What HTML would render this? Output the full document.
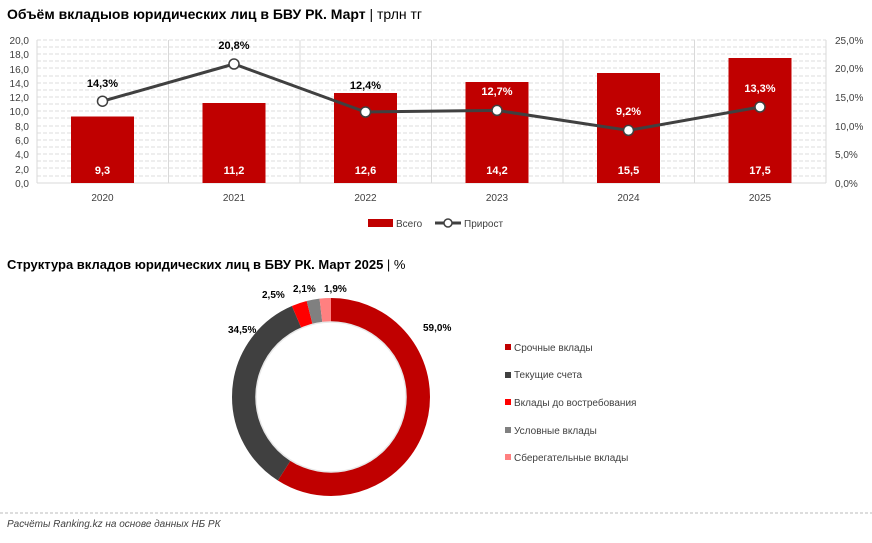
<!DOCTYPE html><html><head><meta charset="utf-8"><style>
body{margin:0;background:#fff;width:872px;height:538px;overflow:hidden;font-family:"Liberation Sans",sans-serif}
</style></head><body>
<svg width="872" height="538" xmlns="http://www.w3.org/2000/svg" font-family="Liberation Sans, sans-serif">
<text x="7" y="19" font-size="14" font-weight="bold" fill="#000">Объём вкладыов юридических лиц в БВУ РК. Март <tspan font-weight="normal">| трлн тг</tspan></text>
<g stroke="#ddd" stroke-dasharray="4,2" stroke-width="1">
<line x1="37" x2="826" y1="40" y2="40"/><line x1="37" x2="826" y1="47" y2="47"/><line x1="37" x2="826" y1="54" y2="54"/><line x1="37" x2="826" y1="61" y2="61"/><line x1="37" x2="826" y1="68" y2="68"/><line x1="37" x2="826" y1="76" y2="76"/><line x1="37" x2="826" y1="83" y2="83"/><line x1="37" x2="826" y1="90" y2="90"/><line x1="37" x2="826" y1="97" y2="97"/><line x1="37" x2="826" y1="104" y2="104"/><line x1="37" x2="826" y1="111" y2="111"/><line x1="37" x2="826" y1="118" y2="118"/><line x1="37" x2="826" y1="126" y2="126"/><line x1="37" x2="826" y1="133" y2="133"/><line x1="37" x2="826" y1="140" y2="140"/><line x1="37" x2="826" y1="147" y2="147"/><line x1="37" x2="826" y1="154" y2="154"/><line x1="37" x2="826" y1="161" y2="161"/><line x1="37" x2="826" y1="168" y2="168"/><line x1="37" x2="826" y1="176" y2="176"/>
</g>
<g stroke="#d9d9d9"><line x1="37" x2="37" y1="40" y2="183"/><line x1="168.5" x2="168.5" y1="40" y2="183"/><line x1="300" x2="300" y1="40" y2="183"/><line x1="431.5" x2="431.5" y1="40" y2="183"/><line x1="563" x2="563" y1="40" y2="183"/><line x1="694.5" x2="694.5" y1="40" y2="183"/><line x1="826" x2="826" y1="40" y2="183"/><line x1="37" x2="826" y1="183" y2="183"/></g>
<g font-size="10" fill="#404040" text-anchor="end">
<text x="29" y="44">20,0</text><text x="29" y="58">18,0</text><text x="29" y="73">16,0</text><text x="29" y="87">14,0</text><text x="29" y="101">12,0</text><text x="29" y="115">10,0</text><text x="29" y="130">8,0</text><text x="29" y="144">6,0</text><text x="29" y="158">4,0</text><text x="29" y="173">2,0</text><text x="29" y="187">0,0</text>
</g>
<g font-size="10" fill="#404040" text-anchor="start">
<text x="835" y="44">25,0%</text><text x="835" y="72">20,0%</text><text x="835" y="101">15,0%</text><text x="835" y="130">10,0%</text><text x="835" y="158">5,0%</text><text x="835" y="187">0,0%</text>
</g>
<g fill="#c00000">
<rect x="71" y="116.5" width="63" height="66.5"/><rect x="202.5" y="103" width="63" height="80"/><rect x="334" y="93" width="63" height="90"/><rect x="465.5" y="82" width="63" height="101"/><rect x="597" y="73" width="63" height="110"/><rect x="728.5" y="58" width="63" height="125"/>
</g>
<g font-size="11" font-weight="bold" fill="#fff" text-anchor="middle">
<text x="102.5" y="174">9,3</text><text x="234" y="174">11,2</text><text x="365.5" y="174">12,6</text><text x="497" y="174">14,2</text><text x="628.5" y="174">15,5</text><text x="760" y="174">17,5</text>
</g>
<polyline points="102.5,101.2 234,64 365.5,112 497,110.4 628.5,130.4 760,107" fill="none" stroke="#404040" stroke-width="3"/>
<g fill="#fff" stroke="#404040" stroke-width="1.5">
<circle cx="102.5" cy="101.2" r="5"/><circle cx="234" cy="64" r="5"/><circle cx="365.5" cy="112" r="5"/><circle cx="497" cy="110.4" r="5"/><circle cx="628.5" cy="130.4" r="5"/><circle cx="760" cy="107" r="5"/>
</g>
<g font-size="11" font-weight="bold" fill="#000" text-anchor="middle">
<text x="102.5" y="87">14,3%</text><text x="234" y="49">20,8%</text><text x="365.5" y="89">12,4%</text>
</g>
<g font-size="11" font-weight="bold" fill="#fff" text-anchor="middle">
<text x="497" y="95">12,7%</text><text x="628.5" y="115">9,2%</text><text x="760" y="92">13,3%</text>
</g>
<g font-size="10" fill="#404040" text-anchor="middle">
<text x="102.5" y="201">2020</text><text x="234" y="201">2021</text><text x="365.5" y="201">2022</text><text x="497" y="201">2023</text><text x="628.5" y="201">2024</text><text x="760" y="201">2025</text>
</g>
<rect x="368" y="219" width="25" height="8" fill="#c00000"/>
<text x="396" y="227" font-size="10" fill="#404040">Всего</text>
<line x1="435" x2="461" y1="223" y2="223" stroke="#404040" stroke-width="3"/>
<circle cx="448" cy="223" r="4" fill="#fff" stroke="#404040" stroke-width="1.5"/>
<text x="464" y="227" font-size="10" fill="#404040">Прирост</text>
<text x="7" y="269" font-size="13" font-weight="bold" fill="#000">Структура вкладов юридических лиц в БВУ РК. Март 2025 <tspan font-weight="normal">| %</tspan></text>
<g transform="rotate(-90 331 397)" fill="none" stroke-width="24">
<circle cx="331" cy="397" r="87" stroke="#c00000" stroke-dasharray="322.5 546.6" stroke-dashoffset="0"/>
<circle cx="331" cy="397" r="87" stroke="#404040" stroke-dasharray="188.6 546.6" stroke-dashoffset="-322.5"/>
<circle cx="331" cy="397" r="87" stroke="#ff0000" stroke-dasharray="13.7 546.6" stroke-dashoffset="-511.1"/>
<circle cx="331" cy="397" r="87" stroke="#808080" stroke-dasharray="11.5 546.6" stroke-dashoffset="-524.8"/>
<circle cx="331" cy="397" r="87" stroke="#ff8080" stroke-dasharray="10.4 546.6" stroke-dashoffset="-536.3"/>
</g>
<circle cx="331" cy="397" r="75" fill="none" stroke="#e8e8e8" stroke-width="1.5"/>
<g font-size="10" font-weight="bold" fill="#000">
<text x="423" y="331">59,0%</text><text x="228" y="333">34,5%</text><text x="262" y="298">2,5%</text><text x="293" y="292">2,1%</text><text x="324" y="292">1,9%</text>
</g>
<g font-size="10" fill="#404040">
<rect x="505" y="344" width="6" height="6" fill="#c00000"/><text x="514" y="351">Срочные вклады</text>
<rect x="505" y="372" width="6" height="6" fill="#404040"/><text x="514" y="378">Текущие счета</text>
<rect x="505" y="399" width="6" height="6" fill="#ff0000"/><text x="514" y="406">Вклады до востребования</text>
<rect x="505" y="427" width="6" height="6" fill="#808080"/><text x="514" y="434">Условные вклады</text>
<rect x="505" y="454" width="6" height="6" fill="#ff8080"/><text x="514" y="461">Сберегательные вклады</text>
</g>
<line x1="0" x2="872" y1="513" y2="513" stroke="#bbb" stroke-dasharray="3,2"/>
<text x="7" y="527" font-size="10" font-style="italic" fill="#404040">Расчёты Ranking.kz на основе данных НБ РК</text>
</svg>
</body></html>
